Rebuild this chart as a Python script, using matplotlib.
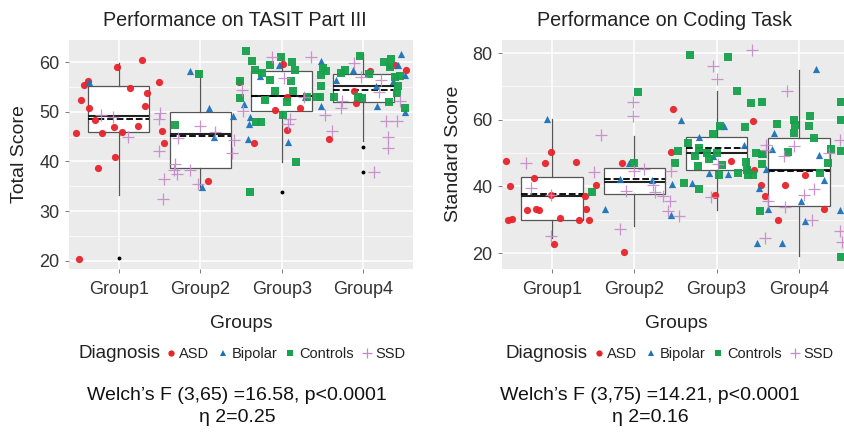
import numpy as np
import matplotlib
matplotlib.use('Agg')
import matplotlib.pyplot as plt
from matplotlib.lines import Line2D

plt.rcParams['font.family'] = ['Liberation Sans', 'DejaVu Sans']

# CONSTANTS
GROUPS = ['Group1', 'Group2', 'Group3', 'Group4']
DIAGNOSES = ['ASD', 'Bipolar', 'Controls', 'SSD']
COLOURS = {'ASD': '#E8232B', 'Bipolar': '#1C72B8', 'Controls': '#16A14B', 'SSD': '#C58AC8'}
MARKERS = {'ASD': 'o', 'Bipolar': '^', 'Controls': 's', 'SSD': '+'}
PANEL = '#EBEBEB'
TEXT = '#333333'

# ---- TASIT Part III (left) ----
TASIT_Q1 = [46.0, 38.7, 50.1, 51.9]
TASIT_MED = [49.2, 45.6, 53.3, 55.2]
TASIT_Q3 = [55.2, 50.0, 58.3, 57.7]
TASIT_MEAN = [48.5, 45.1, 53.2, 54.4]
TASIT_LO = [33.3, 34.9, 39.9, 44.1]
TASIT_HI = [59.9, 58.2, 61.5, 61.7]
TASIT_OUT = [[20.6], [], [33.9], [43.0, 37.9]]

# jittered points: (x position, score)
TASIT_ASD = [(1.29, 60.5), (0.98, 59.1), (1.50, 56.0), (0.58, 55.4), (0.62, 56.2), (1.14, 54.8),
             (0.54, 52.3), (1.35, 53.8), (1.32, 51.2), (0.63, 50.7), (0.71, 48.3), (0.94, 47.0),
             (1.24, 47.2), (1.04, 46.0), (0.79, 45.8), (0.48, 45.8), (1.53, 46.1), (1.56, 43.8),
             (0.96, 40.8), (0.74, 38.6), (0.51, 20.3), (2.09, 36.1), (2.48, 56.0), (2.66, 43.7),
             (2.92, 50.3), (3.01, 59.7), (3.07, 53.1), (3.07, 46.4), (3.22, 50.7), (3.58, 44.5),
             (4.08, 58.3), (3.89, 54.3), (3.91, 51.8), (4.39, 59.4), (4.53, 58.4)]
TASIT_BIP = [(0.64, 56.0), (1.88, 58.3), (2.11, 50.7), (2.40, 49.1), (2.17, 44.9), (2.02, 34.9),
             (2.54, 51.5), (2.61, 48.9), (2.60, 47.6), (2.59, 44.5), (3.08, 43.9), (2.97, 59.5),
             (2.73, 57.3), (3.48, 60.2), (3.48, 51.1), (3.29, 52.9), (3.88, 58.5), (3.66, 56.5),
             (4.46, 61.7), (4.31, 59.4), (4.42, 59.5), (4.51, 57.5), (4.16, 55.2), (4.17, 51.1),
             (4.37, 56.2), (4.51, 49.9)]
TASIT_CON = [(1.98, 57.6), (1.69, 47.3), (2.56, 62.2), (2.64, 60.3), (2.86, 59.5), (2.99, 61.0),
             (3.12, 60.1), (3.16, 58.5), (2.67, 58.5), (2.76, 57.9), (2.49, 56.2), (2.85, 56.5),
             (3.11, 56.2), (2.49, 52.8), (2.80, 52.3), (2.92, 54.3), (3.06, 51.9), (3.14, 54.3),
             (3.01, 49.4), (2.69, 48.0), (2.75, 48.0), (3.17, 39.8), (2.61, 33.9), (3.48, 55.3),
             (3.48, 57.5), (3.51, 58.9), (3.54, 58.2), (3.47, 52.9), (3.31, 52.9), (3.43, 52.9),
             (3.96, 61.2), (3.73, 57.9), (3.78, 58.4), (4.07, 57.6), (4.25, 60.1), (4.34, 60.7),
             (4.33, 59.0), (4.39, 57.0), (4.45, 57.2), (4.43, 55.2), (4.41, 53.8), (4.32, 52.0),
             (3.98, 52.8), (3.94, 52.9), (3.64, 52.9), (4.51, 50.8)]
TASIT_SSD = [(0.78, 49.3), (0.93, 49.0), (1.11, 45.0), (1.51, 49.8), (1.50, 48.5), (1.49, 42.1),
             (1.55, 36.5), (1.54, 32.5), (2.00, 47.1), (2.18, 46.0), (1.73, 44.7), (2.41, 44.4),
             (2.39, 41.7), (1.69, 39.4), (1.71, 37.4), (1.88, 38.2), (1.97, 35.5), (1.68, 38.2),
             (2.51, 54.5), (3.03, 56.8), (3.10, 48.6), (3.08, 47.6), (3.36, 61.0), (2.88, 61.0),
             (3.53, 49.4), (3.62, 46.1), (2.52, 50.1), (3.27, 52.9), (3.89, 59.9), (4.22, 56.5),
             (3.73, 50.8), (3.74, 52.1), (4.28, 48.1), (4.41, 48.1), (4.30, 44.9), (4.30, 42.7),
             (4.13, 37.9), (4.45, 52.1), (3.97, 57.0), (4.19, 54.0)]

# ---- Coding Task (right) ----
CODE_Q1 = [29.8, 37.7, 45.0, 34.0]
CODE_MED = [37.2, 41.2, 50.0, 45.0]
CODE_Q3 = [42.9, 45.5, 54.7, 54.5]
CODE_MEAN = [37.7, 42.2, 51.5, 44.7]
CODE_LO = [24.5, 28.2, 33.0, 19.0]
CODE_HI = [60.3, 55.0, 68.7, 74.8]
CODE_OUT = [[], [], [], []]

CODE_ASD = [(0.44, 47.5), (0.49, 40.0), (0.46, 30.0), (0.51, 30.2), (0.78, 42.5), (0.91, 47.0),
            (0.98, 50.3), (1.29, 47.3), (0.69, 32.8), (0.80, 33.2), (0.84, 33.0), (0.98, 37.5),
            (1.09, 30.5), (1.33, 30.0), (1.40, 37.0), (1.41, 33.3), (1.45, 30.0), (1.53, 40.5),
            (1.02, 22.7), (1.87, 20.2), (1.85, 47.0), (2.47, 63.3), (2.45, 50.3), (3.44, 59.7),
            (3.17, 47.5), (2.98, 37.3), (3.45, 45.0), (3.54, 40.3), (3.83, 40.5), (3.59, 37.0),
            (4.07, 43.3), (4.30, 33.3), (3.75, 30.0)]
CODE_BIP = [(0.94, 60.3), (1.64, 33.3), (1.82, 42.3), (1.94, 47.0), (2.21, 42.0), (2.46, 40.6),
            (2.45, 31.5), (2.57, 60.0), (3.05, 58.0), (3.09, 58.0), (2.79, 54.7), (2.95, 49.0),
            (3.33, 52.3), (2.70, 41.0), (2.91, 44.0), (3.14, 43.7), (3.38, 45.5), (4.21, 75.3),
            (3.70, 56.0), (3.67, 51.3), (3.60, 45.3), (3.51, 39.5), (3.62, 33.3), (4.03, 35.5),
            (4.07, 29.7), (4.24, 49.3), (4.31, 42.0), (3.49, 23.0), (3.79, 23.0), (4.50, 33.0)]
CODE_CON = [(1.49, 38.3), (2.00, 47.0), (2.04, 68.3), (2.68, 79.3), (3.14, 78.7), (3.25, 68.7),
            (3.42, 65.0), (3.55, 65.3), (3.04, 58.0), (3.35, 57.8), (2.96, 55.7), (2.65, 53.0),
            (2.79, 51.5), (3.01, 50.0), (2.77, 46.0), (2.60, 41.0), (2.79, 39.3), (2.88, 50.0),
            (2.74, 49.0), (3.26, 44.0), (3.37, 45.0), (3.38, 43.5), (3.44, 43.3), (3.48, 50.0),
            (3.03, 43.5), (2.91, 48.3), (3.07, 46.3), (3.36, 47.3), (2.53, 50.5), (2.50, 47.0),
            (3.55, 49.7), (3.55, 46.7), (3.74, 58.7), (3.94, 60.0), (3.95, 58.3), (3.94, 56.0),
            (4.13, 61.0), (4.12, 58.0), (4.18, 54.5), (4.39, 51.3), (4.36, 47.0), (4.26, 44.0),
            (4.51, 65.3), (4.51, 60.0), (4.51, 50.7), (3.53, 32.5), (4.51, 18.7), (3.56, 49.7),
            (3.87, 50.3)]
CODE_SSD = [(0.68, 47.0), (0.74, 39.5), (0.98, 37.3), (0.98, 25.0), (1.51, 44.3), (1.60, 55.3),
            (1.83, 27.3), (1.98, 65.2), (1.98, 61.0), (2.00, 44.7), (2.12, 45.3), (1.90, 38.5),
            (2.25, 38.3), (2.23, 40.5), (2.35, 37.0), (2.41, 32.5), (2.45, 44.7), (2.43, 35.7),
            (3.43, 81.0), (2.95, 76.0), (3.01, 72.3), (3.02, 46.7), (2.93, 36.7), (2.54, 31.0),
            (3.85, 68.7), (3.60, 52.5), (3.94, 52.0), (3.82, 49.0), (4.19, 39.3), (4.06, 37.5),
            (3.62, 35.5), (3.83, 33.7), (4.16, 30.0), (3.59, 24.5), (4.50, 26.7), (4.52, 23.3),
            (4.50, 54.0), (3.60, 51.0), (4.37, 50.0)]


def draw_panel(ax, q1, med, q3, mean, lo, hi, out, points, ylim, yticks, yminor):
    ax.set_facecolor(PANEL)
    for s in ax.spines.values():
        s.set_visible(False)
    ax.set_axisbelow(True)
    ax.grid(which='major', color='white', linewidth=1.1)
    ax.grid(which='minor', axis='y', color='white', linewidth=0.5)

    stats = []
    for i in range(len(GROUPS)):
        stats.append(dict(med=med[i], q1=q1[i], q3=q3[i], whislo=lo[i], whishi=hi[i],
                          mean=mean[i], fliers=out[i]))
    ax.bxp(stats, positions=range(1, len(GROUPS) + 1), widths=0.75, patch_artist=True,
           showcaps=False, showmeans=True, meanline=True,
           boxprops=dict(facecolor='white', edgecolor='#555555', linewidth=0.9),
           whiskerprops=dict(color='#555555', linewidth=0.9),
           medianprops=dict(color='#222222', linewidth=1.5),
           meanprops=dict(color='black', linestyle='--', linewidth=1.3),
           flierprops=dict(marker='o', markersize=1.8, markerfacecolor='black',
                           markeredgecolor='black'))

    for diag, pts in zip(DIAGNOSES, points):
        pts = np.array(pts)
        if diag == 'SSD':
            ax.scatter(pts[:, 0], pts[:, 1], marker='+', s=65, linewidths=0.9,
                       color=COLOURS[diag], zorder=3, alpha=0.9)
        else:
            ax.scatter(pts[:, 0], pts[:, 1], marker=MARKERS[diag], s=27, linewidths=0,
                       color=COLOURS[diag], zorder=3, alpha=0.95)

    ax.set_xlim(0.39, 4.61)
    ax.set_ylim(*ylim)
    ax.set_xticks(range(1, len(GROUPS) + 1))
    ax.set_xticklabels(GROUPS)
    ax.set_yticks(yticks)
    ax.set_yticks(yminor, minor=True)
    ax.tick_params(which='major', length=2.7, width=0.6, color='#666666', labelcolor=TEXT,
                   labelsize=13, pad=4)
    ax.tick_params(axis='x', pad=6)
    ax.tick_params(axis='y', which='minor', length=0)


fig = plt.figure(figsize=(8.45, 4.32), dpi=100)

ax1 = fig.add_axes([69 / 845, 1 - 269 / 432, 344 / 845, 229 / 432])
draw_panel(ax1, TASIT_Q1, TASIT_MED, TASIT_Q3, TASIT_MEAN, TASIT_LO, TASIT_HI, TASIT_OUT,
           [TASIT_ASD, TASIT_BIP, TASIT_CON, TASIT_SSD],
           (18.3, 64.5), [20, 30, 40, 50, 60], [25, 35, 45, 55])

ax2 = fig.add_axes([502 / 845, 1 - 269 / 432, 347 / 845, 229 / 432])
draw_panel(ax2, CODE_Q1, CODE_MED, CODE_Q3, CODE_MEAN, CODE_LO, CODE_HI, CODE_OUT,
           [CODE_ASD, CODE_BIP, CODE_CON, CODE_SSD],
           (15.2, 83.9), [20, 40, 60, 80], [30, 50, 70])

def fy(py):
    return 1 - py / 432

# Titles and axis labels
fig.text(235 / 845, fy(20), 'Performance on TASIT Part III', ha='center', va='center',
         fontsize=14.2, color='#222222')
fig.text(665 / 845, fy(20), 'Performance on Coding Task', ha='center', va='center',
         fontsize=14.2, color='#222222')
fig.text(20 / 845, fy(154), 'Total Score', rotation=90, ha='center', va='center',
         fontsize=14, color='#222222')
fig.text(453 / 845, fy(154), 'Standard Score', rotation=90, ha='center', va='center',
         fontsize=14, color='#222222')
fig.text(241 / 845, fy(323), 'Groups', ha='center', va='center', fontsize=13.8, color='#222222')
fig.text(676 / 845, fy(323), 'Groups', ha='center', va='center', fontsize=13.8, color='#222222')

# Legends
handles = []
for diag in DIAGNOSES:
    if diag == 'SSD':
        handles.append(Line2D([], [], linestyle='none', marker='+', markersize=7,
                              markeredgewidth=0.9, color=COLOURS[diag]))
    else:
        handles.append(Line2D([], [], linestyle='none', marker=MARKERS[diag], markersize=4.5,
                              markeredgewidth=0, color=COLOURS[diag]))
for x_title, x_leg in [(78, 164), (506, 592)]:
    fig.text(x_title / 845, fy(354), 'Diagnosis', ha='left', va='center', fontsize=13.5,
             color='#222222')
    fig.legend(handles, DIAGNOSES, loc='center left', bbox_to_anchor=(x_leg / 845, fy(354)),
               ncol=4, frameon=False, handletextpad=0.15, columnspacing=0.45,
               handlelength=0.9, borderpad=0, borderaxespad=0, fontsize=10.5,
               labelcolor='#222222')

# Statistics
fig.text(237 / 845, fy(396), 'Welch\u2019s F (3,65) =16.58, p<0.0001', ha='center', va='center',
         fontsize=14, color='#111111')
fig.text(237 / 845, fy(418), '\u03b7 2=0.25', ha='center', va='center', fontsize=14,
         color='#111111')
fig.text(650 / 845, fy(396), 'Welch\u2019s F (3,75) =14.21, p<0.0001', ha='center', va='center',
         fontsize=14, color='#111111')
fig.text(650 / 845, fy(418), '\u03b7 2=0.16', ha='center', va='center', fontsize=14,
         color='#111111')

fig.savefig('out.png', dpi=100)
